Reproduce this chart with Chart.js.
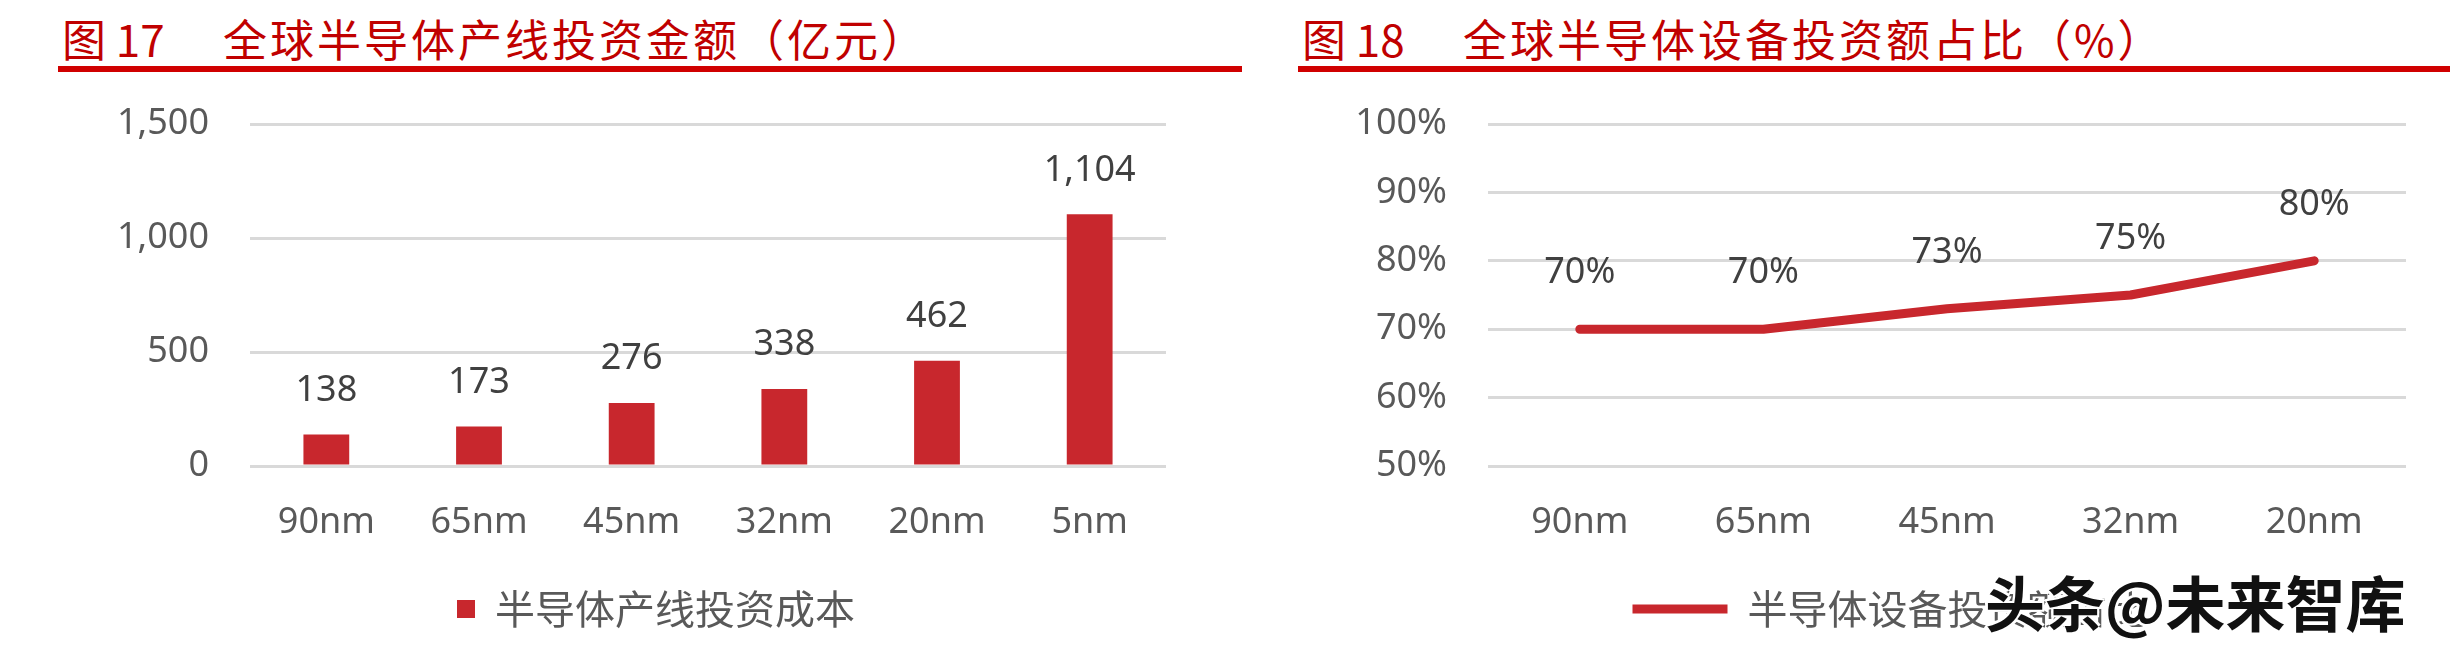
<!DOCTYPE html>
<html>
<head>
<meta charset="utf-8">
<script src="https://cdn.jsdelivr.net/npm/chart.js@4.4.1/dist/chart.umd.min.js"></script>
<style>
  html,body{margin:0;padding:0;background:#fff;}
  #wrap{position:relative;width:2450px;height:660px;overflow:hidden;background:#fff;}
  .tnum,.ttxt{position:absolute;top:12px;color:#c00000;font-family:"Noto Sans CJK SC","Noto Sans",sans-serif;font-size:44px;line-height:52px;white-space:nowrap;}
  .ttxt{letter-spacing:3px;}
  .rule{position:absolute;top:66px;height:6px;background:#d00000;}
  canvas{position:absolute;top:0;}
  #mark{position:absolute;left:1985px;top:566px;font-family:"Noto Sans CJK SC",sans-serif;font-weight:bold;font-size:60px;line-height:70px;color:#111;white-space:nowrap;
    text-shadow:2px 2px 0 #fff,-2px -2px 0 #fff,2px -2px 0 #fff,-2px 2px 0 #fff;}
</style>
</head>
<body>
<div id="wrap">
  <div class="tnum" style="left:62px">图 17</div>
  <div class="ttxt" style="left:223px">全球半导体产线投资金额（亿元）</div>
  <div class="rule" style="left:58px;width:1184px"></div>
  <div class="tnum" style="left:1302px">图 18</div>
  <div class="ttxt" style="left:1463px">全球半导体设备投资额占比（%）</div>
  <div class="rule" style="left:1298px;width:1152px"></div>
  <canvas id="c1" width="1250" height="660" style="left:0"></canvas>
  <canvas id="c2" width="1200" height="660" style="left:1250px"></canvas>
  <div id="mark">头条@未来智库</div>
</div>
<script>
// chart 1: 全球半导体产线投资金额（亿元）
var nodes1 = ['90nm', '65nm', '45nm', '32nm', '20nm', '5nm'];
var invest = [138, 173, 276, 338, 462, 1104];
var investName = '半导体产线投资成本';

// chart 2: 全球半导体设备投资额占比（%）
var nodes2 = ['90nm', '65nm', '45nm', '32nm', '20nm'];
var equipShare = [70, 70, 73, 75, 80];
var equipName = '半导体设备投资额占比';

var RED = '#c8272d';
var GRID = '#d9d9d9';
var TICK = '#595959';
var NUM_FONT = {family: '"Noto Sans", "Liberation Sans", sans-serif', size: 36};
var CJK_FONT = {family: '"Noto Sans CJK SC", sans-serif', size: 40};

function fmt(v) { return Number(v).toLocaleString('en-US'); }

// labels above each bar / point, offset in px
var valueLabels = {
  id: 'valueLabels',
  afterDatasetsDraw: function (chart, args, opts) {
    var ctx = chart.ctx;
    var meta = chart.getDatasetMeta(0);
    var data = chart.data.datasets[0].data;
    ctx.save();
    ctx.font = NUM_FONT.size + 'px ' + NUM_FONT.family;
    ctx.fillStyle = '#404040';
    ctx.textAlign = 'center';
    ctx.textBaseline = 'middle';
    meta.data.forEach(function (el, i) {
      ctx.fillText(opts.format(data[i]), el.x, el.y - opts.offset);
    });
    ctx.restore();
  }
};

// the legend in the original sits a bit right of the canvas centre
var legendShift = {
  id: 'legendShift',
  afterLayout: function (chart, args, opts) {
    chart.legend.left += opts.dx;
    chart.legend.right += opts.dx;
  }
};

Chart.defaults.color = TICK;

new Chart(document.getElementById('c1').getContext('2d'), {
  type: 'bar',
  data: {
    labels: nodes1,
    datasets: [{
      label: investName,
      data: invest,
      backgroundColor: RED,
      barPercentage: 0.30,
      categoryPercentage: 1.0
    }]
  },
  options: {
    responsive: false,
    animation: false,
    devicePixelRatio: 1,
    layout: {padding: {top: 124, right: 84, left: 0, bottom: 21}},
    scales: {
      y: {
        min: 0, max: 1500,
        ticks: {stepSize: 500, padding: 41, font: NUM_FONT, color: TICK, callback: function (v) { return fmt(v); }},
        grid: {color: GRID, lineWidth: 3, drawTicks: false},
        border: {display: false},
        afterFit: function (s) { s.width = 250; }
      },
      x: {
        ticks: {padding: 35, font: NUM_FONT, color: TICK},
        grid: {display: false, drawTicks: false},
        border: {display: false},
        afterFit: function (s) { s.height = 113; }
      }
    },
    plugins: {
      legend: {
        position: 'bottom',
        labels: {boxWidth: 18, boxHeight: 18, font: CJK_FONT, color: TICK, padding: 10}
      },
      tooltip: {enabled: false},
      valueLabels: {offset: 44, format: fmt},
      legendShift: {dx: 73}
    }
  },
  plugins: [valueLabels, legendShift]
});

new Chart(document.getElementById('c2').getContext('2d'), {
  type: 'line',
  data: {
    labels: nodes2,
    datasets: [{
      label: equipName,
      data: equipShare,
      borderColor: RED,
      backgroundColor: RED,
      borderWidth: 9,
      borderCapStyle: 'round',
      borderJoinStyle: 'round',
      pointRadius: 0,
      tension: 0
    }]
  },
  options: {
    responsive: false,
    animation: false,
    devicePixelRatio: 1,
    layout: {padding: {top: 124, right: 44, left: 0, bottom: 21}},
    scales: {
      y: {
        min: 50, max: 100,
        ticks: {stepSize: 10, padding: 41, font: NUM_FONT, color: TICK, callback: function (v) { return v + '%'; }},
        grid: {color: GRID, lineWidth: 3, drawTicks: false},
        border: {display: false},
        afterFit: function (s) { s.width = 238; }
      },
      x: {
        offset: true,
        ticks: {padding: 35, font: NUM_FONT, color: TICK},
        grid: {display: false, drawTicks: false},
        border: {display: false},
        afterFit: function (s) { s.height = 113; }
      }
    },
    plugins: {
      legend: {
        position: 'bottom',
        labels: {usePointStyle: true, pointStyle: 'line', pointStyleWidth: 95, font: CJK_FONT, color: TICK, padding: 10}
      },
      tooltip: {enabled: false},
      valueLabels: {offset: 56, format: function (v) { return v + '%'; }},
      legendShift: {dx: 62}
    }
  },
  plugins: [valueLabels, legendShift]
});
</script>
</body>
</html>
